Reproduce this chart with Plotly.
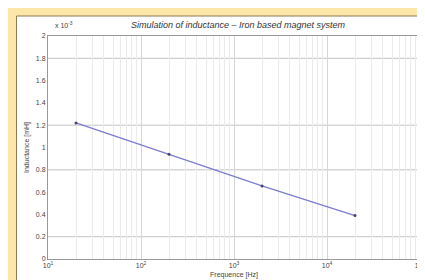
import plotly.graph_objects as go

# Data
frequency_hz = [20, 200, 2000, 20000]
inductance_h = [1.22e-3, 0.94e-3, 0.655e-3, 0.39e-3]

y_tick_values = [0, 0.2e-3, 0.4e-3, 0.6e-3, 0.8e-3, 1.0e-3, 1.2e-3, 1.4e-3, 1.6e-3, 1.8e-3, 2.0e-3]
y_tick_labels = ["0", "0.2", "0.4", "0.6", "0.8", "1", "1.2", "1.4", "1.6", "1.8", "2"]
x_tick_values = [10, 100, 1000, 10000, 100000]
x_tick_labels = ["10<sup>1</sup>", "10<sup>2</sup>", "10<sup>3</sup>", "10<sup>4</sup>", "10<sup>5</sup>"]
grid_levels = [0.2e-3, 0.8e-3, 1.2e-3, 1.8e-3]

W, H = 425, 280
L, R, T, B = 40, 7, 28, 29
pw, ph = W - L - R, H - T - B

fig = go.Figure()
fig.add_trace(go.Scatter(
    x=frequency_hz, y=inductance_h, mode="lines+markers",
    line=dict(color="#7c7cd2", width=1.3),
    marker=dict(color="#444466", size=3),
    showlegend=False,
))

shapes = [
    dict(type="rect", xref="paper", yref="paper",
         x0=(8 - L) / pw, x1=(W + 5 - L) / pw,
         y0=-(H + 5 - (H - B)) / ph, y1=((H - B) - 8) / ph,
         fillcolor="white", line=dict(color="#8c7b52", width=1), layer="below"),
]
for g in grid_levels:
    shapes.append(dict(type="line", xref="paper", yref="y", x0=0, x1=1, y0=g, y1=g,
                       line=dict(color="#c4c4c4", width=1), layer="below"))

fig.update_layout(
    width=W, height=H,
    margin=dict(l=L, r=R, t=T, b=B),
    paper_bgcolor="#fde7a8",
    plot_bgcolor="rgba(0,0,0,0)",
    shapes=shapes,
    font=dict(family="Liberation Sans, Arial", size=7, color="#444"),
    title=dict(text="<i>Simulation of inductance – Iron based magnet system</i>",
               x=(230 - 0) / W, xanchor="center", y=1 - 17 / H, yanchor="middle",
               font=dict(size=9, color="#333")),
    xaxis=dict(type="log", range=[1, 5], tickvals=x_tick_values, ticktext=x_tick_labels,
               showgrid=True, gridcolor="#d6d6d6", gridwidth=1,
               minor=dict(dtick="D1", showgrid=True, gridcolor="#ebebeb", ticks=""),
               showline=True, linecolor="#999", linewidth=1, mirror=True,
               ticks="", zeroline=False, tickfont=dict(size=7),
               title=dict(text="Frequence [Hz]", font=dict(size=7, color="#444"), standoff=3)),
    yaxis=dict(range=[0, 2e-3], tickvals=y_tick_values, ticktext=y_tick_labels,
               showgrid=False, showline=True, linecolor="#999", linewidth=1, mirror=True,
               ticks="", zeroline=False, tickfont=dict(size=7),
               title=dict(text="Inductance [mH]", font=dict(size=7, color="#444"), standoff=5)),
    annotations=[dict(text="x 10<sup>-3</sup>", xref="paper", yref="paper",
                      x=(45 - L) / pw, y=1 + 11 / ph, xanchor="left", yanchor="middle",
                      showarrow=False, font=dict(size=7, color="#444"))],
)

fig.write_html("out.html")
